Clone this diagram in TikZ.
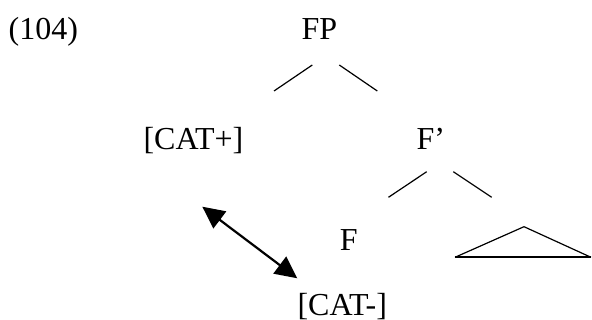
\documentclass[tikz,border=0pt]{standalone}
\usepackage{fontspec}
\setmainfont{Liberation Serif}
\usepackage{tikz}
\usetikzlibrary{arrows.meta, positioning, calc}

\tikzset{
  lbl/.style={font=\fontsize{32}{38}\selectfont, inner sep=0pt, anchor=base west},
  branch/.style={line width=1.2pt},
  agree/.style={line width=2.2pt, {Triangle[length=22pt,width=21pt]}-{Triangle[length=22pt,width=21pt]}}
}

\begin{document}
\begin{tikzpicture}[x=1pt,y=-1pt]
    \useasboundingbox (0,0) rectangle (592,320);

    % labels
    \node[lbl] (ex) at (8.5,39.3) {(104)};
    \node[lbl] (fp) at (301.3,39.3) {FP};
    \node[lbl] (catplus) at (143.3,149.3) {[CAT+]};
    \node[lbl] (fbar) at (416.3,149.3) {F’};
    \node[lbl] (f) at (339.6,250.7) {F};
    \node[lbl] (catminus) at (297.3,316) {[CAT-]};

    % branch ends
    \coordinate (fp-l) at (312.3,65);   \coordinate (catplus-t) at (274,91);
    \coordinate (fp-r) at (339.3,65);   \coordinate (fbar-t) at (377.3,91);
    \coordinate (fbar-l) at (426.7,171.7); \coordinate (f-t) at (388.5,197.3);
    \coordinate (fbar-r) at (453.3,171.7); \coordinate (tri-t) at (491.7,197.3);

    \draw[branch] (fp-l) -- (catplus-t);
    \draw[branch] (fp-r) -- (fbar-t);
    \draw[branch] (fbar-l) -- (f-t);
    \draw[branch] (fbar-r) -- (tri-t);

    % triangle
    \coordinate (apex) at (524,226.7);
    \coordinate (base-l) at (455,257.3);
    \coordinate (base-r) at (591,257.3);
    \draw[branch] (base-l) -- (apex) -- (base-r);
    \draw[line width=2pt] (base-l) -- (base-r);

    % agreement arrow
    \coordinate (agr-a) at (202.3,206.7);
    \coordinate (agr-b) at (297.3,278.3);
    \draw[agree] (agr-a) -- (agr-b);
\end{tikzpicture}
\end{document}
